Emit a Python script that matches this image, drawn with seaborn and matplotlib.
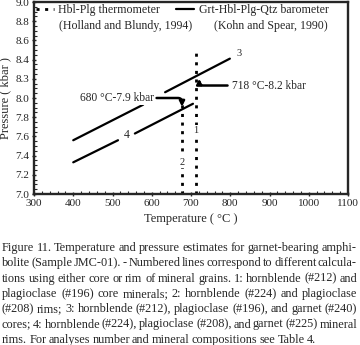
import numpy as np
import seaborn as sns
import matplotlib.pyplot as plt
from matplotlib.lines import Line2D
from matplotlib.ticker import MultipleLocator

# Lines (temperature in °C, pressure in kbar), NaN = gap
line1_T = [712, 712]
line1_P = [7.0, 8.49]
line2_T = [677, 677]
line2_P = [7.0, 7.97]
line3_T = [400, 578, np.nan, 634, 799]
line3_P = [7.56, 7.93, np.nan, 8.06, 8.41]
line4_T = [400, 514, np.nan, 557, 705]
line4_P = [7.33, 7.56, np.nan, 7.63, 7.94]

x_ticks = [300, 400, 500, 600, 700, 800, 900, 1000, 1100]
y_ticks = [7.0, 7.2, 7.4, 7.6, 7.8, 8.0, 8.2, 8.4, 8.6, 8.8, 9.0]
y_tick_labels = ["7.0", "7.2", "7.4", "7.6", "7.8", "8.0", "8.3", "8.4", "8.6", "8.8", "9.0"]

caption = [
    "Figure 11. Temperature and pressure estimates for garnet-bearing amphi-",
    "bolite (Sample JMC-01). - Numbered lines correspond to different calcula-",
    "tions using either core or rim of mineral grains. 1: hornblende (#212) and",
    "plagioclase (#196) core minerals; 2: hornblende (#224) and plagioclase",
    "(#208) rims; 3: hornblende (#212), plagioclase (#196), and garnet (#240)",
    "cores; 4: hornblende (#224), plagioclase (#208), and garnet (#225) mineral",
    "rims. For analyses number and mineral compositions see Table 4.",
]

sns.set_style("ticks")
plt.rcParams['font.family'] = ['Liberation Serif', 'DejaVu Serif']

W, H = 360, 345
fig = plt.figure(figsize=(W / 100, H / 100), dpi=100)
ax = fig.add_axes([34 / W, 1 - 194 / H, 314 / W, 192 / H])

dash_kw = dict(color='black', linewidth=2.0, linestyle=(0, (1.1, 2.0)))
solid_kw = dict(color='black', linewidth=1.6)
sns.lineplot(x=line1_T, y=line1_P, ax=ax, sort=False, estimator=None, **dash_kw)
sns.lineplot(x=line2_T, y=line2_P, ax=ax, sort=False, estimator=None, **dash_kw)
ax.plot(line3_T, line3_P, **solid_kw)
ax.plot(line4_T, line4_P, **solid_kw)

box = dict(facecolor='white', edgecolor='none', pad=0.5)
ax.text(713, 7.66, "1", fontsize=7.5, ha='center', va='center', bbox=box)
ax.text(677, 7.33, "2", fontsize=7.5, ha='center', va='center', bbox=box)
ax.text(822, 8.46, "3", fontsize=7.5, ha='center', va='center')
ax.text(537, 7.61, "4", fontsize=8.5, ha='center', va='center')

arrow = dict(arrowstyle='-|>,head_length=0.35,head_width=0.18', color='black',
             lw=1.8, shrinkA=1, shrinkB=0,
             connectionstyle='angle,angleA=0,angleB=90,rad=4')
ax.annotate("680 °C-7.9 kbar", xy=(677, 7.91), xytext=(607, 8.0),
            fontsize=8.3, ha='right', va='center', arrowprops=arrow, bbox=box)
ax.annotate("718 °C-8.2 kbar", xy=(721, 8.2), xytext=(805, 8.13),
            fontsize=8.3, ha='left', va='center', arrowprops=arrow)

handles = [Line2D([], [], **dash_kw), Line2D([], [], **solid_kw)]
ax.legend(handles, ["Hbl-Plg thermometer", "Grt-Hbl-Plg-Qtz barometer"],
          ncol=2, loc='upper left', frameon=False, fontsize=8.6,
          handlelength=1.5, handletextpad=0.4, columnspacing=1.3,
          borderaxespad=0.1, borderpad=0.05)
ax.text(0.08, 0.873, "(Holland and Blundy, 1994)", transform=ax.transAxes,
        fontsize=8.6, va='center', ha='left')
ax.text(0.572, 0.873, "(Kohn and Spear, 1990)", transform=ax.transAxes,
        fontsize=8.6, va='center', ha='left')

ax.set_xlim(300, 1100)
ax.set_ylim(7.0, 9.0)
ax.set_xticks(x_ticks)
ax.set_yticks(y_ticks)
ax.set_yticklabels(y_tick_labels)
ax.xaxis.set_minor_locator(MultipleLocator(20))
ax.yaxis.set_minor_locator(MultipleLocator(0.05))
ax.tick_params(which='major', direction='inout', length=3.5, width=1,
               labelsize=8, pad=1.5)
ax.tick_params(which='minor', direction='in', length=2, width=0.8)
for s in ax.spines.values():
    s.set_linewidth(1.7)
ax.set_xlabel("Temperature ( °C )", fontsize=9, labelpad=4)
ax.set_ylabel("Pressure ( kbar )", fontsize=9, labelpad=3)

# Justified caption below the chart
fig.canvas.draw()
r = fig.canvas.get_renderer()
left, right = 2, 357
y0, dy = 248, 15.3
cap_fs = 8.8
for i, line in enumerate(caption):
    words = line.split(" ")
    y = 1 - (y0 + i * dy) / H
    texts = [fig.text(0, y, w, fontsize=cap_fs, va='center', ha='left') for w in words]
    widths = [t.get_window_extent(r).width for t in texts]
    if i == len(caption) - 1:
        space = 2.2
    else:
        space = (right - left - sum(widths)) / (len(words) - 1)
    x = left
    for t, w in zip(texts, widths):
        t.set_x(x / W)
        x += w + space

fig.savefig("out.png", dpi=100)
